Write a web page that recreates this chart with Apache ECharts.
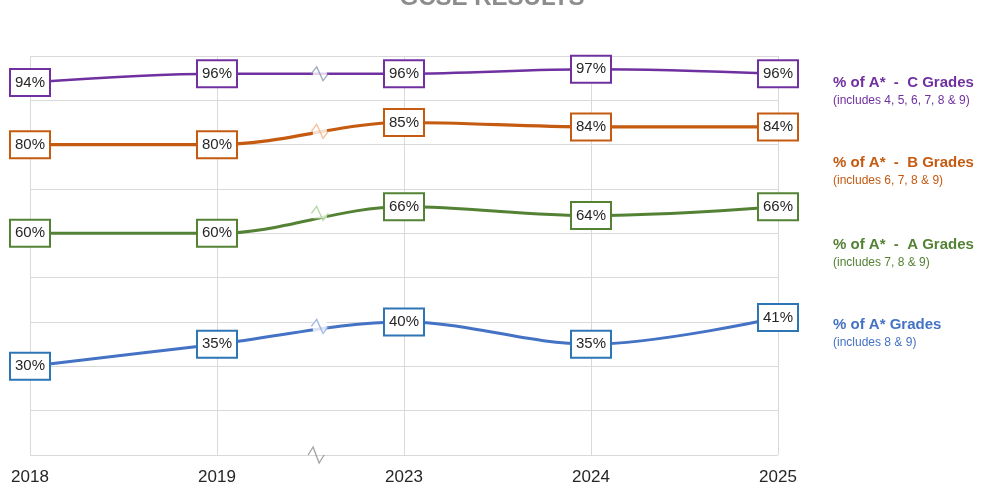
<!DOCTYPE html>
<html>
<head>
<meta charset="utf-8">
<script src="https://cdn.jsdelivr.net/npm/echarts@6/dist/echarts.min.js"></script>
<style>
  html, body { margin: 0; padding: 0; background: #ffffff; }
  #chart { width: 984px; height: 487px; }
</style>
</head>
<body>
<div id="chart"></div>
<script>
// ---- data ----
const years = ['2018', '2019', '2023', '2024', '2025'];
const pctAtoC = [94, 96, 96, 97, 96];
const pctAtoB = [80, 80, 85, 84, 84];
const pctAtoA = [60, 60, 66, 64, 66];
const pctAstar = [30, 35, 40, 35, 41];
// axis break marker (position in category index units, values where the lines cross)
const breakPos = 1.55;
const breakValues = [96, 83, 64.5, 39];
const axisBreakValue = 10;

const seriesNames = ['% of A* - C Grades', '% of A* - B Grades', '% of A* - A Grades', '% of A* Grades'];
const legendTitles = ['% of A*  -  C Grades', '% of A*  -  B Grades', '% of A*  -  A Grades', '% of A* Grades'];
const legendSubs = ['(includes 4, 5, 6, 7, 8 & 9)', '(includes 6, 7, 8 & 9)', '(includes 7, 8 & 9)', '(includes 8 & 9)'];

const lineColors = ['#7030A0', '#C55A11', '#548235', '#4472C4'];
const boxColors = ['#7030A0', '#C55A11', '#548235', '#2E75B6'];
const zigColors = ['#8497B0', '#F4B183', '#A9D18E', '#8FAADC'];
const legendTops = [75, 155, 237, 317];
const lineWidths = [2.5, 3.2, 3, 3];

const allData = [pctAtoC, pctAtoB, pctAtoA, pctAstar];

const chart = echarts.init(document.getElementById('chart'), null, { renderer: 'canvas' });

const lineSeries = allData.map((d, i) => ({
  name: seriesNames[i],
  type: 'line',
  data: d,
  smooth: 0.35,
  symbol: 'circle',
  symbolSize: 2,
  showSymbol: true,
  z: 2,
  lineStyle: { color: lineColors[i], width: lineWidths[i] },
  itemStyle: { color: lineColors[i] },
  label: {
    show: true,
    position: 'inside',
    formatter: '{c}%',
    fontFamily: 'Liberation Sans, Arial, sans-serif',
    fontSize: 15,
    color: '#262626',
    backgroundColor: '#ffffff',
    borderColor: boxColors[i],
    borderWidth: 2,
    padding: [6, 4, 4, 4]
  },
  labelLayout: { hideOverlap: false }
}));

const zigPath = 'path://M0,7 L5,0 L11,14 L16,7';

const gapSeries = {
  type: 'scatter',
  xAxisIndex: 1,
  yAxisIndex: 0,
  silent: true,
  z: 5,
  symbol: 'rect',
  symbolSize: [14, 10],
  itemStyle: { color: '#ffffff' },
  data: breakValues.map(v => [breakPos, v])
};

const zigSeries = {
  type: 'scatter',
  xAxisIndex: 1,
  yAxisIndex: 0,
  silent: true,
  z: 6,
  symbol: zigPath,
  symbolSize: [17, 14],
  data: breakValues.map((v, i) => ({
    value: [breakPos, v],
    itemStyle: { color: 'none', borderColor: zigColors[i], borderWidth: 1.3 }
  })).concat([{
    value: [breakPos - 0.02, axisBreakValue],
    symbolSize: [16, 16],
    itemStyle: { color: 'none', borderColor: '#8c8c8c', borderWidth: 1.3 }
  }])
};

const graphics = [];
legendTitles.forEach((t, i) => {
  graphics.push({
    type: 'text',
    left: 833,
    top: legendTops[i],
    style: {
      text: t,
      fill: lineColors[i],
      font: 'bold 15px "Liberation Sans", Arial, sans-serif'
    }
  });
  graphics.push({
    type: 'text',
    left: 833,
    top: legendTops[i] + 20,
    style: {
      text: legendSubs[i],
      fill: lineColors[i],
      font: '12px "Liberation Sans", Arial, sans-serif'
    }
  });
});

chart.setOption({
  animation: false,
  backgroundColor: '#ffffff',
  title: {
    text: 'GCSE RESULTS',
    left: 'center',
    top: -19,
    textStyle: {
      fontFamily: 'Liberation Sans, Arial, sans-serif',
      fontSize: 24,
      fontWeight: 'bold',
      color: '#8c8c8c'
    }
  },
  grid: { left: 30, right: 206, top: 56, bottom: 32, containLabel: false },
  xAxis: [{
    type: 'category',
    data: years,
    boundaryGap: false,
    axisLine: { show: false },
    axisTick: { show: false },
    axisLabel: {
      color: '#262626',
      fontSize: 17,
      fontFamily: 'Liberation Sans, Arial, sans-serif',
      margin: 14
    },
    splitLine: { show: true, lineStyle: { color: '#d9d9d9', width: 1 } }
  }, {
    type: 'value',
    min: 0,
    max: 4,
    show: false
  }],
  yAxis: {
    type: 'value',
    min: 10,
    max: 100,
    interval: 10,
    axisLine: { show: false },
    axisTick: { show: false },
    axisLabel: { show: false },
    splitLine: { show: true, lineStyle: { color: '#d9d9d9', width: 1 } }
  },
  series: lineSeries.concat([gapSeries, zigSeries]),
  graphic: graphics
});
</script>
</body>
</html>
